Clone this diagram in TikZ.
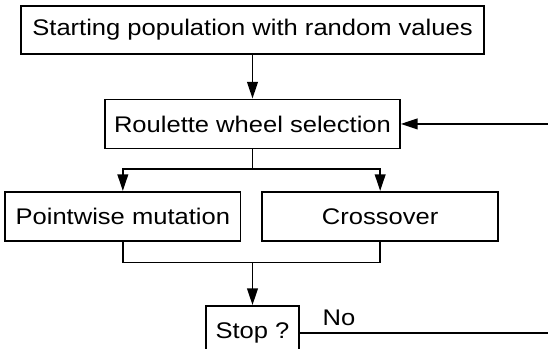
\documentclass[tikz,border=0pt]{standalone}
\usepackage{fontspec}
\setmainfont{Liberation Sans}[FakeStretch=1.13]
\usetikzlibrary{arrows.meta,positioning}

\begin{document}
\begin{tikzpicture}[
  font=\fontsize{19.3}{22}\selectfont,
  line width=1.5pt,
  box/.style={rectangle, draw, minimum height=1.47cm, inner sep=0pt, align=center},
  arr/.style={-{Triangle[length=5mm, width=3.2mm]}}
]
  \useasboundingbox (0,0) rectangle (16.44,-10.44);
  \node[box, minimum width=13.9cm, minimum height=1.44cm] (start) at (7.575,-0.9) {Starting population with random values};
  \node[box, minimum width=8.85cm, below=1.31cm of start] (roul) {Roulette wheel selection};
  \draw[arr] (start) -- (roul);

  \path (roul.south) ++(0,-0.6) coordinate (split);
  \node[box, minimum width=7.06cm, below=1.25cm of roul, xshift=-3.89cm] (mut) {Pointwise mutation};
  \node[box, minimum width=7.08cm, below=1.25cm of roul, xshift=3.83cm] (cross) {Crossover};
  \draw (roul) -- (split);
  \draw[arr] (split) -| (mut);
  \draw[arr] (split) -| (cross);

  \path (mut.south -| split) ++(0,-0.62) coordinate (merge);
  \draw (mut) |- (merge) -| (cross);
  \node[box, minimum width=2.8cm, minimum height=1.64cm, below=1.28cm of merge] (stop) {Stop ?};
  \draw[arr] (merge) -- (stop);
  \draw[arr] (stop.east) node[anchor=south west, inner sep=0pt, xshift=0.65cm, yshift=0.2cm] {No} -- ++(8,0) |- (roul.east);
\end{tikzpicture}
\end{document}
